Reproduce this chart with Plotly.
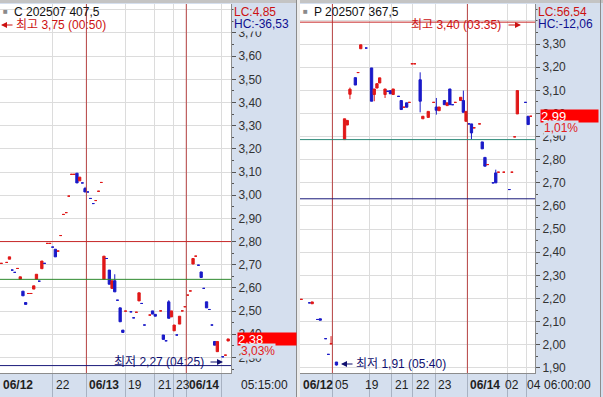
import plotly.graph_objects as go

W, H = 603, 397

# ---------------- data: left panel (C 202507 407.5) ----------------
c_slot = [0, 2, 3, 4, 5, 6, 7, 8, 9, 10, 11, 12, 13, 14, 15, 16, 17, 18, 19, 20, 21, 22, 23, 24, 25,
          26, 27, 28, 29, 30, 31, 32, 33, 34, 35, 36, 37, 38, 39, 40, 41, 42, 43, 44, 45, 46,
          48, 49, 50, 51, 52, 53, 55, 56, 57, 59, 60, 61, 62, 63, 64, 65, 66, 67, 68, 69, 70,
          71, 72, 73, 74, 75, 76, 77, 78, 79, 80, 82, 83, 84]
c_open = [2.706, 2.710, 2.724, 2.677, 2.667, 2.684, 2.637, 2.586, 2.537, 2.576, 2.576, 2.595, 2.637,
          2.629, 2.683, 2.706, 2.792, 2.792, 2.776, 2.767, 2.759, 2.826, 2.917, 2.925, 2.996, 3.090,
          3.090, 3.095, 3.062, 3.053, 3.029, 3.014, 2.986, 2.964, 2.977, 3.017, 3.055, 2.637, 2.727,
          2.677, 2.598, 2.631, 2.547, 2.514, 2.418, 2.500,
          2.497, 2.471, 2.495, 2.544, 2.533, 2.440, 2.483, 2.501, 2.486, 2.501, 2.397, 2.372, 2.540,
          2.475, 2.415, 2.397, 2.444, 2.501, 2.519, 2.569, 2.587, 2.703, 2.737, 2.698, 2.669, 2.598,
          2.540, 2.507, 2.440, 2.369, 2.325, 2.303, 2.310, 2.371]
c_close = [2.706, 2.710, 2.734, 2.677, 2.667, 2.684, 2.648, 2.566, 2.529, 2.576, 2.576, 2.609, 2.659,
           2.629, 2.716, 2.706, 2.792, 2.792, 2.776, 2.734, 2.759, 2.826, 2.917, 2.925, 2.996, 3.090,
           3.090, 3.053, 3.078, 3.053, 3.014, 3.014, 2.986, 2.964, 2.977, 3.017, 3.055, 2.737, 2.727,
           2.616, 2.631, 2.583, 2.547, 2.454, 2.408, 2.500,
           2.497, 2.471, 2.495, 2.579, 2.533, 2.440, 2.483, 2.487, 2.478, 2.501, 2.378, 2.372, 2.469,
           2.501, 2.440, 2.397, 2.478, 2.501, 2.519, 2.569, 2.587, 2.727, 2.737, 2.698, 2.645, 2.598,
           2.514, 2.507, 2.440, 2.353, 2.369, 2.303, 2.310, 2.380]
c_high = [2.706, 2.710, 2.734, 2.677, 2.667, 2.684, 2.648, 2.586, 2.537, 2.576, 2.576, 2.609, 2.659,
          2.629, 2.716, 2.706, 2.792, 2.792, 2.776, 2.767, 2.759, 2.826, 2.917, 2.925, 2.996, 3.090,
          3.090, 3.095, 3.078, 3.053, 3.036, 3.014, 2.986, 2.964, 2.977, 3.017, 3.055, 2.737, 2.727,
          2.677, 2.631, 2.659, 2.547, 2.514, 2.418, 2.500,
          2.497, 2.471, 2.495, 2.579, 2.533, 2.440, 2.483, 2.501, 2.486, 2.501, 2.397, 2.372, 2.547,
          2.501, 2.440, 2.397, 2.478, 2.501, 2.519, 2.569, 2.587, 2.727, 2.737, 2.698, 2.669, 2.598,
          2.540, 2.507, 2.440, 2.369, 2.369, 2.303, 2.310, 2.380]
c_low = [2.706, 2.710, 2.724, 2.677, 2.667, 2.684, 2.637, 2.566, 2.529, 2.576, 2.576, 2.595, 2.637,
         2.629, 2.683, 2.706, 2.792, 2.792, 2.776, 2.734, 2.759, 2.826, 2.917, 2.925, 2.996, 3.090,
         3.090, 3.053, 3.062, 3.053, 3.014, 3.014, 2.986, 2.964, 2.977, 3.017, 3.055, 2.637, 2.727,
         2.616, 2.598, 2.583, 2.547, 2.454, 2.408, 2.500,
         2.497, 2.471, 2.495, 2.544, 2.533, 2.440, 2.483, 2.487, 2.478, 2.501, 2.378, 2.372, 2.469,
         2.475, 2.415, 2.397, 2.444, 2.501, 2.519, 2.569, 2.587, 2.703, 2.737, 2.698, 2.645, 2.598,
         2.514, 2.507, 2.440, 2.353, 2.325, 2.303, 2.310, 2.371]
c_grid = [19.1, 31.5, 45.8, 56.9, 63.6, 68.5, 81.7]
c_label_x = [-0.5, 19.1, 31.5, 45.8, 56.9, 63.6, 68.5]
c_label_text = ["06/12", "22", "06/13", "19", "21", "23", "06/14"]
c_day_lines = [31.5, 68.5]
c_levels = {"red": 2.80, "green": 2.637, "low": 2.265}
c_yticks = [2.3, 2.4, 2.5, 2.6, 2.7, 2.8, 2.9, 3.0, 3.1, 3.2, 3.3, 3.4, 3.5, 3.6, 3.7, 3.8]
c_last = 2.38

# ---------------- data: right panel (P 202507 367.5) ----------------
p_slot = [0, 3, 4, 6, 7, 9, 10, 11, 13, 16, 17, 18, 20, 21, 22, 24, 26, 27, 28, 29, 31, 32, 33, 34,
          36, 37, 38, 39, 40, 41, 42, 44, 45, 47, 49, 50, 51, 53, 54, 55, 56, 57, 59, 60, 61,
          62, 63, 64, 66, 67, 68, 69, 71, 72, 73, 75, 77, 78, 79, 80, 83, 84, 85]
p_open = [2.196, 2.181, 2.177, 2.109, 2.112, 2.026, 1.958, 2.004, 1.925,
          2.887, 2.950, 3.083, 3.155, 3.177, 3.280, 3.283,
          3.197, 3.082, 3.110, 3.132, 3.082, 3.096, 3.099, 3.082,
          3.074, 3.056, 3.027, 3.046, 3.048, 3.215, 3.215,
          3.146, 2.977, 2.983, 3.048, 3.028, 3.012,
          3.056, 3.034, 3.106, 3.038, 3.048, 3.056, 3.056, 2.966,
          2.955, 2.955, 2.938, 2.955, 2.877, 2.810, 2.779,
          2.700, 2.743, 2.746, 2.746, 2.671, 2.746, 2.899, 2.998,
          3.048, 2.988, 2.988]
p_close = [2.196, 2.181, 2.185, 2.109, 2.106, 2.026, 1.958, 2.004, 1.912,
           2.977, 2.970, 3.105, 3.123, 3.177, 3.297, 3.283,
           3.053, 3.106, 3.129, 3.154, 3.106, 3.096, 3.085, 3.106,
           3.074, 3.017, 3.027, 3.027, 3.048, 3.215, 3.215,
           3.053, 2.988, 3.009, 3.048, 3.014, 3.028,
           3.038, 3.046, 3.038, 3.038, 3.048, 3.070, 3.005, 3.009,
           2.955, 2.916, 2.938, 2.955, 2.847, 2.772, 2.779,
           2.700, 2.700, 2.746, 2.746, 2.671, 2.746, 2.899, 3.099,
           3.048, 2.952, 2.988]
p_high = [2.196, 2.181, 2.185, 2.109, 2.112, 2.026, 1.958, 2.037, 1.925,
          2.977, 2.970, 3.112, 3.155, 3.177, 3.297, 3.283,
          3.197, 3.106, 3.129, 3.154, 3.106, 3.096, 3.099, 3.106,
          3.074, 3.056, 3.027, 3.046, 3.048, 3.215, 3.215,
          3.178, 2.988, 3.009, 3.048, 3.067, 3.028,
          3.056, 3.046, 3.106, 3.038, 3.048, 3.070, 3.099, 3.009,
          2.955, 2.955, 2.938, 2.955, 2.877, 2.810, 2.779,
          2.700, 2.757, 2.746, 2.746, 2.671, 2.746, 2.899, 3.099,
          3.048, 2.988, 2.988]
p_low = [2.196, 2.181, 2.177, 2.109, 2.106, 2.026, 1.958, 2.004, 1.910,
         2.887, 2.950, 3.062, 3.123, 3.177, 3.280, 3.283,
         3.053, 3.053, 3.110, 3.132, 3.067, 3.096, 3.085, 3.082,
         3.074, 3.017, 3.027, 3.027, 3.048, 3.215, 3.215,
         3.005, 2.977, 2.983, 3.048, 2.995, 3.012,
         3.038, 3.034, 3.038, 3.038, 3.048, 3.056, 3.005, 2.966,
         2.955, 2.887, 2.938, 2.955, 2.847, 2.772, 2.779,
         2.700, 2.700, 2.746, 2.746, 2.671, 2.746, 2.899, 2.998,
         3.048, 2.952, 2.988]
p_grid = [11.5, 25.1, 33.5, 41.2, 49.5, 61.5, 76.2, 83.3]
p_label_x = [-0.5, 11.5, 22.3, 33.5, 41.2, 49.5, 61.5, 74.4, 82.5]
p_label_text = ["06/12", "05", "19", "21", "22", "23", "06/14", "02", "04"]
p_day_lines = [11.5, 61.5]
p_levels = {"red": 3.395, "teal": 2.887, "low": 2.631}
p_yticks = [1.9, 2.0, 2.1, 2.2, 2.3, 2.4, 2.5, 2.6, 2.7, 2.8, 2.9, 3.0, 3.1, 3.2, 3.3, 3.4]
p_last = 2.99

# ---------------- styling ----------------
RED = "#E01818"
BLUE = "#1A1AC8"
AXBG = "#D5DFEE"
GRID = "#DCDCDC"
DAY = "#B84444"
FONT = "Liberation Sans, Arial, Noto Sans CJK KR, sans-serif"
SLOT = 2.7  # pixels per bar


def px(x):
    return x / W


def py(y):
    return 1 - y / H


YDOM = [24 / H, 393 / H]

fig = go.Figure()
for slots, o, h, l, c, xa, ya in [(c_slot, c_open, c_high, c_low, c_close, "x", "y"),
                                   (p_slot, p_open, p_high, p_low, p_close, "x2", "y2")]:
    fig.add_trace(go.Candlestick(
        x=slots, open=o, high=h, low=l, close=c, xaxis=xa, yaxis=ya,
        increasing=dict(line=dict(color=RED, width=1), fillcolor=RED),
        decreasing=dict(line=dict(color=BLUE, width=1), fillcolor=BLUE),
        whiskerwidth=0, hoverinfo="skip", showlegend=False))


def xaxis(dom, right_px, ticks):
    return dict(domain=dom, range=[-0.5, right_px / SLOT - 0.5], tickvals=ticks,
                showticklabels=False, ticks="outside", ticklen=24, tickcolor="#A8B2C2",
                showgrid=True, gridcolor=GRID, gridwidth=1, zeroline=False, automargin=False,
                showline=True, linecolor="#8C8C8C", linewidth=1, rangeslider=dict(visible=False),
                fixedrange=True)


def yaxis(anchor, rng, ticks):
    return dict(domain=YDOM, range=rng, anchor=anchor, side="right", tickvals=ticks,
                tickformat=".2f", ticks="outside", ticklen=4, tickcolor="#555555",
                tickfont=dict(family=FONT, size=12, color="#333333"), automargin=False,
                showgrid=True, gridcolor=GRID, zeroline=False,
                showline=True, linecolor="#8C8C8C",
                minor=dict(tickmode="linear", tick0=0, dtick=0.05, ticks="outside",
                           ticklen=2, tickcolor="#555555", showgrid=False),
                fixedrange=True)


fig.update_layout(
    width=W, height=H, margin=dict(l=0, r=0, t=0, b=0, pad=0, autoexpand=False),
    paper_bgcolor=AXBG, plot_bgcolor="white", separators=", ",
    font=dict(family=FONT, size=12, color="#222222"),
    boxgap=0.15, boxgroupgap=0, showlegend=False,
    xaxis=xaxis([0, 231 / W], 231, c_grid),
    yaxis=yaxis("x", [2.2330, 3.8249], c_yticks),
    xaxis2=xaxis([300 / W, 535 / W], 235, p_grid),
    yaxis2=yaxis("x2", [1.8775, 3.4735], p_yticks),
)
fig.update_xaxes(rangeslider_visible=False)

shapes = []
# day separators
for xs, xr, yr in [(c_day_lines, "x", "y domain"), (p_day_lines, "x2", "y2 domain")]:
    for d in xs:
        shapes.append(dict(type="line", xref=xr, yref=yr, x0=d, x1=d, y0=0, y1=1,
                           line=dict(color=DAY, width=1)))
# horizontal reference lines
for val, col, xr, yr in [(c_levels["red"], "#C82828", "x domain", "y"),
                         (c_levels["green"], "#2E8A2E", "x domain", "y"),
                         (c_levels["low"], "#1A1A7A", "x domain", "y"),
                         (p_levels["red"], "#C82828", "x2 domain", "y2"),
                         (p_levels["teal"], "#2E8A7A", "x2 domain", "y2"),
                         (p_levels["low"], "#1A1A7A", "x2 domain", "y2")]:
    shapes.append(dict(type="line", xref=xr, yref=yr, x0=0, x1=1, y0=val, y1=val,
                       line=dict(color=col, width=1)))
# frame pieces
shapes += [
    dict(type="rect", xref="paper", yref="paper", x0=0, x1=1, y0=py(3), y1=1,
         fillcolor="#C4C4C4", line_width=0),
    dict(type="line", xref="paper", yref="paper", x0=px(296.5), x1=px(296.5), y0=0, y1=1,
         line=dict(color="#8C8C8C", width=1)),
    dict(type="rect", xref="paper", yref="paper", x0=px(297), x1=px(300), y0=0, y1=1,
         fillcolor="#ECECEC", line_width=0),
    dict(type="line", xref="paper", yref="paper", x0=px(600.5), x1=px(600.5), y0=0, y1=1,
         line=dict(color="#8C8C8C", width=1)),
]
fig.update_layout(shapes=shapes)

ann = []


def text(x, y, s, color="#222222", size=12, bg=None, xref="paper", yref="paper", **kw):
    d = dict(x=x, y=y, xref=xref, yref=yref, text=s, showarrow=False, xanchor="left",
             yanchor="middle", font=dict(family=FONT, size=size, color=color), borderpad=0)
    if bg:
        d["bgcolor"] = bg
    d.update(kw)
    ann.append(d)


def arrow(x_tip, y, dx, color):
    ann.append(dict(x=px(x_tip), y=py(y), xref="paper", yref="paper", text="", showarrow=True,
                    ax=dx, ay=0, arrowhead=2, arrowsize=1, arrowwidth=1.2, arrowcolor=color))


# titles
text(px(2), py(12), "■", color="#8A8A8A", size=8)
text(px(13), py(12), "C 202507 407,5", color="#111111")
text(px(302), py(12), "■", color="#8A8A8A", size=8)
text(px(313), py(12), "P 202507 367,5", color="#111111")
# LC / HC
text(px(233), py(12), "LC:4,85", color="#CC1111", bg=AXBG)
text(px(233), py(24), "HC:-36,53", color="#101090", bg=AXBG)
text(px(537), py(12), "LC:56,54", color="#CC1111", bg=AXBG)
text(px(537), py(24), "HC:-12,06", color="#101090", bg=AXBG)
# high / low markers
arrow(1, 25, 13, "#CC1111")
text(px(15), py(25), "최고 3,75 (00:50)", color="#CC1111")
text(px(410), py(25), "최고 3,40 (03:35)", color="#CC1111")
arrow(521, 25, -14, "#CC1111")
text(px(113), py(362), "최저 2,27 (04:25)", color="#101070")
arrow(223, 362, -14, "#101070")
arrow(341, 364, 13, "#101070")
text(px(355), py(364), "최저 1,91 (05:40)", color="#101070")
# last price boxes
text(px(237), c_last, "2,38", color="white", size=13, bg="#FF0000", yref="y",
     width=58, height=12, align="left")
text(px(240), py(351), "3,03%", color="#E02020", bg=AXBG)
text(px(540), p_last, "2,99", color="white", size=13, bg="#FF0000", yref="y2",
     width=57, height=12, align="left")
text(px(543), py(128), "1,01%", color="#E02020", bg=AXBG)
# x strip labels
for xs, labels, xr in [(c_label_x, c_label_text, "x"), (p_label_x, p_label_text, "x2")]:
    for t, s in zip(xs, labels):
        s2 = "<b>%s</b>" % s if "/" in s else s
        text(t, py(385), s2, color="#222222", xref=xr, xshift=2)
text(px(240), py(385), "05:15:00", color="#222222")
text(px(543), py(385), "06:00:00", color="#222222")

fig.update_layout(annotations=ann)
fig.write_html("out.html", config={"displayModeBar": False},
               post_script="document.body.style.margin='0';document.body.style.overflow='hidden';")
